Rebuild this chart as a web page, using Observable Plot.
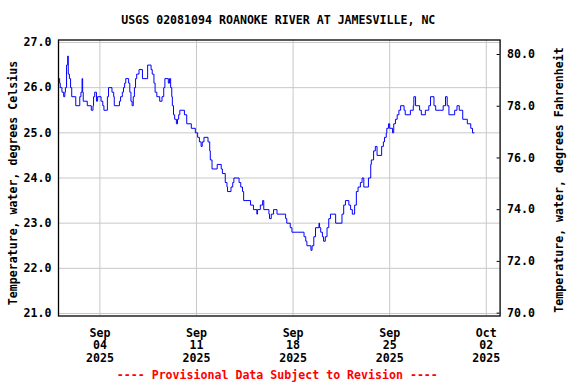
<!DOCTYPE html>
<html><head><meta charset="utf-8">
<script src="https://cdn.jsdelivr.net/npm/d3@7"></script>
<script src="https://cdn.jsdelivr.net/npm/@observablehq/plot@0.6"></script>
<style>body{margin:0;background:#fff}</style>
</head><body><div id="chart"></div>
<script>
const title = "USGS 02081094 ROANOKE RIVER AT JAMESVILLE, NC";
const caption = "---- Provisional Data Subject to Revision ----";
const leftLabel = "Temperature, water, degrees Celsius";
const rightLabel = "Temperature, water, degrees Fahrenheit";
const startDate = "2025-09-01T00:00:00Z";
const endDate = "2025-10-03T00:00:00Z";
// hours since 2025-09-01 00:00 UTC at which the reading changes
const hours = [0,2,3,6,9,11,12,14,16,17,19,21,23,30,37,39,41,42,43,50,57,60,61,63,66,68,74,77,79,85,87,93,96,97,106,108,111,113,115,117,122,124,126,128,130,132,134,136,140,146,155,161,163,166,168,171,176,180,183,185,191,193,195,197,198,200,202,205,207,209,211,219,223,231,238,242,245,248,250,253,260,263,264,267,276,283,285,290,293,294,300,303,305,314,317,320,322,334,339,345,346,351,355,357,366,367,370,374,380,395,397,403,406,427,430,432,439,441,444,447,453,454,456,459,461,464,467,470,473,482,493,496,499,505,508,511,515,518,521,525,528,531,539,543,544,548,551,554,562,565,567,570,571,574,576,581,583,586,589,592,595,601,603,612,617,618,621,628,631,638,644,647,653,656,669,673,676,679,689,693,697,703,711,717,720,723];
// water temperature, degrees Celsius
const tempC = [26.2,26.1,26.0,25.9,25.8,25.9,26.0,26.5,26.7,26.3,26.2,26.0,25.8,25.6,25.8,25.9,26.2,25.9,25.7,25.6,25.5,25.6,25.8,25.9,25.7,25.8,25.7,25.6,25.5,25.8,26.0,25.9,25.8,25.6,25.7,25.8,25.9,26.0,26.1,26.2,26.1,25.9,25.7,25.6,25.8,26.0,26.2,26.3,26.4,26.2,26.5,26.4,26.3,26.1,25.9,25.8,25.7,25.8,26.0,26.2,26.1,26.2,26.0,25.8,25.6,25.4,25.3,25.2,25.3,25.4,25.5,25.4,25.2,25.1,25.0,24.9,24.8,24.7,24.8,24.9,24.8,24.6,24.4,24.2,24.3,24.2,24.1,23.9,23.8,23.7,23.8,23.9,24.0,23.9,23.8,23.7,23.5,23.4,23.3,23.2,23.3,23.4,23.5,23.3,23.2,23.1,23.2,23.3,23.2,23.1,23.0,22.9,22.8,22.7,22.6,22.5,22.4,22.5,22.7,22.9,23.0,22.9,22.8,22.7,22.6,22.7,22.9,23.1,23.2,23.0,23.2,23.4,23.5,23.4,23.3,23.2,23.4,23.7,23.8,23.9,24.0,23.8,24.0,24.3,24.4,24.6,24.7,24.5,24.7,24.8,24.9,25.0,25.1,25.2,25.1,25.0,25.2,25.3,25.4,25.5,25.6,25.5,25.4,25.5,25.6,25.8,25.6,25.5,25.4,25.5,25.6,25.8,25.6,25.5,25.6,25.8,25.6,25.4,25.5,25.6,25.5,25.3,25.2,25.1,25.0,25.0];
const xTickDates = ["2025-09-04","2025-09-11","2025-09-18","2025-09-25","2025-10-02"];
const cTicks = [21, 22, 23, 24, 25, 26, 27];
const fTicks = [70, 72, 74, 76, 78, 80];
const cDomain = [20.945, 27.055];
const fDomain = [69.89, 80.56];

const t0 = new Date(startDate).getTime();
const rows = hours.map((h, i) => ({date: new Date(t0 + h * 3600e3), c: tempC[i]}));
const xTicks = xTickDates.map(s => new Date(s + "T00:00:00Z"));
const toC = f => cDomain[0] + (f - fDomain[0]) / (fDomain[1] - fDomain[0]) * (cDomain[1] - cDomain[0]);
const toF = c => fDomain[0] + (c - cDomain[0]) / (cDomain[1] - cDomain[0]) * (fDomain[1] - fDomain[0]);
const frameW = 576 - 58 - 76.4;

const font = "DejaVu Sans Mono";
const chart = Plot.plot({
  width: 576,
  height: 384,
  marginLeft: 58,
  marginRight: 76.4,
  marginTop: 39.5,
  marginBottom: 68.5,
  style: {fontFamily: font, fontWeight: "bold", fontSize: "11.6px", background: "#fff", color: "#000"},
  x: {type: "utc", domain: [new Date(startDate), new Date(endDate)]},
  y: {domain: cDomain},
  marks: [
    Plot.gridY(cTicks, {stroke: "#c8c8c8", strokeOpacity: 1}),
    Plot.gridX(xTicks, {stroke: "#c8c8c8", strokeOpacity: 1}),
    Plot.tickY(fTicks.map(toC), {stroke: "#000", insetLeft: frameW - 3}),
    Plot.line(rows, {x: "date", y: "c", curve: "step-after", stroke: "#0000ff", strokeWidth: 1}),
    Plot.frame({stroke: "#000", strokeWidth: 1.3}),
    Plot.axisY(cTicks, {anchor: "left", tickSize: 0, tickPadding: 7, tickFormat: d => d.toFixed(1), label: null}),
    Plot.axisY(fTicks.map(toC), {anchor: "right", tickSize: 0, tickPadding: 7, tickFormat: c => toF(c).toFixed(1), label: null}),
    Plot.axisX(xTicks, {anchor: "bottom", tickSize: 0, tickPadding: 12, lineHeight: 1.08, tickFormat: d3.utcFormat("%b\n%d\n%Y"), label: null}),
    Plot.text([title], {text: d => d, frameAnchor: "top", dy: -24, dx: -1, fill: "#000"}),
    Plot.text([caption], {text: d => d, frameAnchor: "bottom", dy: 63, dx: -2, fill: "#ff0000"}),
    Plot.text([leftLabel], {text: d => d, frameAnchor: "left", textAnchor: "middle", rotate: -90, dx: -45, dy: 5, fill: "#000"}),
    Plot.text([rightLabel], {text: d => d, frameAnchor: "right", textAnchor: "middle", rotate: -90, dx: 59, dy: 2, fill: "#000"})
  ]
});
document.getElementById("chart").appendChild(chart);
</script>
</body></html>
